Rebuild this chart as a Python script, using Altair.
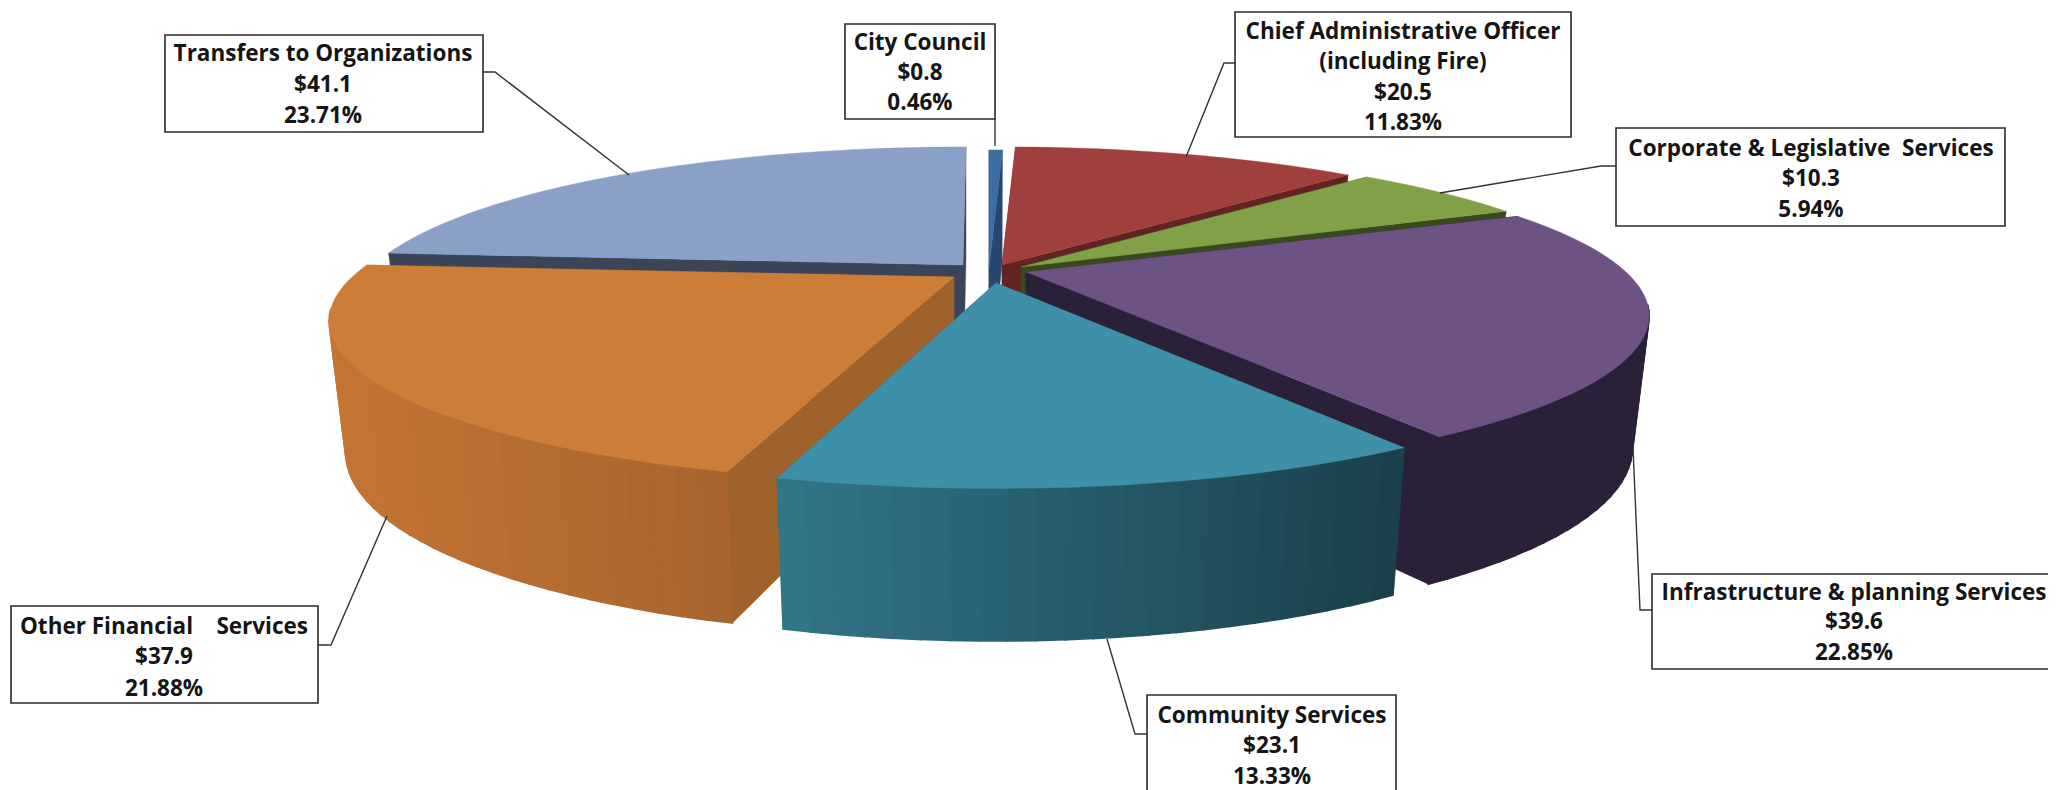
import math
import altair as alt

# ---- data ----
categories = ["City Council", "Chief Administrative Officer", "Corporate & Legislative \u00a0Services",
              "Infrastructure & planning Services", "Community Services",
              "Other Financial \u00a0\u00a0\u00a0Services", "Transfers to Organizations"]
amounts = [0.8, 20.5, 10.3, 39.6, 23.1, 37.9, 41.1]
percents = [0.46, 11.83, 5.94, 22.85, 13.33, 21.88, 23.71]
sublabels = ["", "(including Fire)", "", "", "", "", ""]

# ---- styles and layout ----
OFF = 8
R, K, A = 592.0, 150.0, 0.27
SHRINK = 0.973
H_A, H_B = 43.0, 84.0
tops = ["#3c6ca0", "#a0403e", "#80a147", "#6c5383", "#3e8fa8", "#cc7d38", "#8ba0c7"]
walls = ["#28466e", "#642323", "#3a481e", "#2a2138", "#2c6a7c", "#a0622c", "#3c445a"]
rim_left = ["#28466e", "#642323", "#3a481e", "#2a2138", "#327688", "#c47534", "#3c445a"]
rim_right = ["#28466e", "#642323", "#3a481e", "#2a2138", "#1a3f4a", "#a8642e", "#3c445a"]
tips = [(989, 268), (1002, 265), (1021, 267), (1026, 272), (996, 283), (946, 277), (966, 265)]
apexes = [(989, 268), (1002, 265), (1021, 267), (1026, 272), (996, 283), (954, 277), (963, 265)]
radii = [R, R, R, 600, R, 594, R]
draw_order = [6, 0, 1, 2, 3, 5, 4]

# label box: x0, x1, y0, y1; text centre x; text line centres
boxes = [
    (845, 995, 24, 119, 920, [43, 73, 103]),
    (1235, 1571, 12, 137, 1403, [32, 62, 93, 123]),
    (1616, 2005, 128, 226, 1811, [149, 179, 210]),
    (1652, 2056, 574, 669, 1854, [593, 622, 653]),
    (1147, 1396, 695, 800, 1272, [716, 746, 777]),
    (11, 318, 606, 703, 164, [627, 657, 689]),
    (165, 483, 35, 132, 323, [54, 85, 116]),
]
leaders = [
    [(995, 119), (995, 146)],
    [(1235, 63), (1224, 63), (1186, 157)],
    [(1616, 166), (1601, 166), (1440, 193)],
    [(1652, 610), (1640, 610), (1633, 448)],
    [(1147, 734), (1135, 734), (1107, 639)],
    [(318, 645), (331, 645), (387, 516)],
    [(483, 72), (495, 72), (629, 175)],
]


def hex_mix(a, b, t):
    ca = [int(a[i:i + 2], 16) for i in (1, 3, 5)]
    cb = [int(b[i:i + 2], 16) for i in (1, 3, 5)]
    return "#%02x%02x%02x" % tuple(round(x + (y - x) * t) for x, y in zip(ca, cb))


def top_point(tip, rad, deg):
    u, v = math.sin(math.radians(deg)), math.cos(math.radians(deg))
    p = 1 / (1 + A * v)
    return (tip[0] + rad * u * p, tip[1] - K * v * p), p


def low_point(tip, pt, p):
    return (tip[0] + SHRINK * (pt[0] - tip[0]),
            pt[1] + H_A + H_B * p - (1 - SHRINK) * (pt[1] - tip[1]))


def poly(ring, fill, sw=0.4):
    ring = [[round(x - OFF, 2), round(y - OFF, 2)] for x, y in ring]
    ring.append(ring[0])
    return {"type": "Feature", "geometry": {"type": "Polygon", "coordinates": [ring]},
            "properties": {}, "fill": fill, "sw": sw}


edges = [0.0]
for pc in percents:
    edges.append(edges[-1] + pc * 3.6)

features = []
for i in draw_order:
    tip, rad, apex = tips[i], radii[i], apexes[i]
    a0, a1 = edges[i], edges[i + 1]
    n = max(2, int((a1 - a0) / 2.0))
    degs = [a0 + (a1 - a0) * k / n for k in range(n + 1)]
    pts = [top_point(tip, rad, d) for d in degs]
    # radial cut walls
    apex_low = low_point(apex, apex, 1.0)
    for pt, p in (pts[0], pts[-1]):
        features.append(poly([apex, pt, low_point(tip, pt, p), apex_low], walls[i]))
    # outer rim, only the strips that face the viewer, shaded by screen position
    strips = []
    for k in range(n):
        mid = (degs[k] + degs[k + 1]) / 2
        if math.cos(math.radians(mid)) < -0.2:
            strips.append(k)
    if strips:
        xs = [pts[k][0][0] for k in strips] + [pts[k + 1][0][0] for k in strips]
        x_lo, x_hi = min(xs), max(xs)
        for k in strips:
            (q0, p0), (q1, p1) = pts[k], pts[k + 1]
            t = ((q0[0] + q1[0]) / 2 - x_lo) / max(1.0, x_hi - x_lo)
            features.append(poly([q0, q1, low_point(tip, q1, p1), low_point(tip, q0, p0)],
                                 hex_mix(rim_left[i], rim_right[i], t), 1.6))
    # top face
    features.append(poly([apex] + [q for q, _ in pts], tops[i]))

box_rows, text_rows, line_rows = [], [], []
for i, (x0, x1, y0, y1, cx, ys) in enumerate(boxes):
    box_rows.append({"x": x0 - OFF, "x2": x1 - OFF, "y": y0 - OFF, "y2": y1 - OFF})
    lines = [categories[i]] + ([sublabels[i]] if sublabels[i] else []) + \
            [f"${amounts[i]:.1f}", f"{percents[i]:.2f}%"]
    for s, y in zip(lines, ys):
        text_rows.append({"x": cx - OFF, "y": y - OFF, "t": s})
    for k, (x, y) in enumerate(leaders[i]):
        line_rows.append({"id": i, "k": k, "x": x - OFF, "y": y - OFF})

pie = alt.Chart(alt.Data(values=features)).mark_geoshape().encode(
    fill=alt.Fill("fill:N", scale=None, legend=None),
    stroke=alt.Stroke("fill:N", scale=None, legend=None),
    strokeWidth=alt.StrokeWidth("sw:Q", scale=None, legend=None),
).project(type="identity", scale=1, translate=[0, 0])

leader = alt.Chart(alt.Data(values=line_rows)).mark_line(color="#333333", strokeWidth=1.4).encode(
    x=alt.X("x:Q", scale=None, axis=None),
    y=alt.Y("y:Q", scale=None, axis=None),
    detail="id:N",
    order="k:Q",
)
box = alt.Chart(alt.Data(values=box_rows)).mark_rect(
    fill="white", stroke="#2a2a2a", strokeWidth=1.6
).encode(
    x=alt.X("x:Q", scale=None, axis=None), x2="x2:Q",
    y=alt.Y("y:Q", scale=None, axis=None), y2="y2:Q",
)
text = alt.Chart(alt.Data(values=text_rows)).mark_text(
    font="Open Sans", fontWeight="bold", fontSize=22.5, color="#151515",
    baseline="middle", align="center"
).encode(
    x=alt.X("x:Q", scale=None, axis=None),
    y=alt.Y("y:Q", scale=None, axis=None),
    text="t:N",
)

chart = alt.layer(pie, leader, box, text).properties(
    width=2040, height=782, padding=0, autosize=alt.AutoSizeParams(type="none"),
    background="white",
).configure_view(stroke=None)

chart.save("out.html", embed_options={"renderer": "svg", "actions": False})
